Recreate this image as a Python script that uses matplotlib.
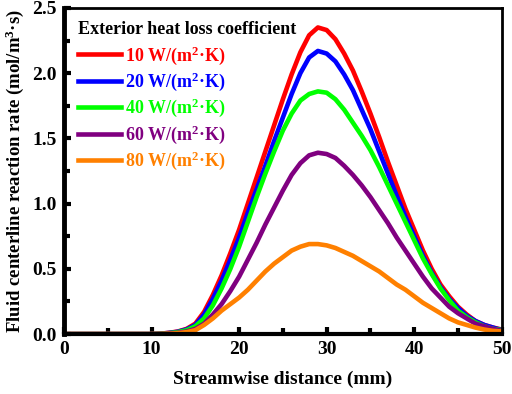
import numpy as np
import matplotlib
matplotlib.use('Agg')
import matplotlib.pyplot as plt
from matplotlib.ticker import MultipleLocator

plt.rcParams['font.family'] = 'Liberation Serif'
plt.rcParams['font.weight'] = 'bold'
plt.rcParams['mathtext.fontset'] = 'custom'
plt.rcParams['mathtext.rm'] = 'Liberation Serif:bold'
plt.rcParams['mathtext.it'] = 'Liberation Serif:bold'
plt.rcParams['mathtext.bf'] = 'Liberation Serif:bold'

# distancia ao longo do escoamento (mm)
x = [0, 5, 10, 11, 12, 13, 14, 15, 16, 17, 18, 19, 20, 21, 22, 23, 24, 25, 26, 27, 28,
     29, 30, 31, 32, 33, 34, 35, 36, 37, 38, 39, 40, 41, 42, 43, 44, 45, 46, 47, 48, 49, 50]

r10 = [0, 0, 0, 0.003, 0.01, 0.02, 0.04, 0.08, 0.17, 0.30, 0.45, 0.62, 0.80, 1.00, 1.20, 1.40,
       1.60, 1.80, 1.99, 2.16, 2.29, 2.35, 2.33, 2.26, 2.15, 2.02, 1.86, 1.69, 1.51, 1.32, 1.14,
       0.96, 0.80, 0.64, 0.50, 0.38, 0.29, 0.21, 0.15, 0.10, 0.07, 0.05, 0.035]
r20 = [0, 0, 0, 0.003, 0.009, 0.018, 0.036, 0.07, 0.15, 0.27, 0.41, 0.57, 0.74, 0.93, 1.11, 1.29,
       1.48, 1.66, 1.84, 2.00, 2.12, 2.17, 2.15, 2.09, 1.99, 1.87, 1.72, 1.57, 1.40, 1.23, 1.06,
       0.90, 0.75, 0.60, 0.47, 0.36, 0.27, 0.20, 0.14, 0.10, 0.07, 0.05, 0.03]
r40 = [0, 0, 0, 0.002, 0.007, 0.015, 0.03, 0.06, 0.12, 0.22, 0.35, 0.50, 0.67, 0.86, 1.05, 1.23,
       1.40, 1.56, 1.69, 1.79, 1.84, 1.86, 1.85, 1.80, 1.72, 1.62, 1.52, 1.41, 1.28, 1.14, 1.00,
       0.86, 0.72, 0.58, 0.46, 0.35, 0.26, 0.18, 0.13, 0.09, 0.06, 0.04, 0.03]
r60 = [0, 0, 0, 0.001, 0.005, 0.01, 0.02, 0.04, 0.08, 0.15, 0.23, 0.33, 0.44, 0.57, 0.70, 0.84,
       0.97, 1.10, 1.22, 1.31, 1.37, 1.39, 1.38, 1.35, 1.29, 1.22, 1.14, 1.05, 0.95, 0.85, 0.74,
       0.64, 0.54, 0.44, 0.35, 0.28, 0.21, 0.16, 0.12, 0.08, 0.06, 0.04, 0.025]
r80 = [0, 0, 0, 0.001, 0.003, 0.007, 0.015, 0.03, 0.07, 0.12, 0.18, 0.23, 0.28, 0.34, 0.41, 0.48,
       0.54, 0.59, 0.64, 0.67, 0.69, 0.69, 0.68, 0.66, 0.63, 0.60, 0.56, 0.52, 0.48, 0.43, 0.38,
       0.34, 0.29, 0.24, 0.20, 0.16, 0.12, 0.09, 0.07, 0.05, 0.035, 0.025, 0.02]

series = [r10, r20, r40, r60, r80]
labels = ['10 W/(m$^2$·K)', '20 W/(m$^2$·K)', '40 W/(m$^2$·K)',
          '60 W/(m$^2$·K)', '80 W/(m$^2$·K)']
cores = ['#FF0000', '#0000FF', '#00FF00', '#800080', '#FF8000']

fig = plt.figure(figsize=(5.12, 3.94), dpi=100)
ax = fig.add_axes([0.125, 0.152, 0.855, 0.828])

for y, lab, c in zip(series, labels, cores):
    ax.plot(x, y, color=c, linewidth=3.3, label=lab, solid_joinstyle='round')

ax.set_xlim(0, 50)
ax.set_ylim(0, 2.5)
ax.xaxis.set_major_locator(MultipleLocator(10))
ax.xaxis.set_minor_locator(MultipleLocator(5))
ax.set_yticks([0, 0.5, 1.0, 1.5, 2.0, 2.5])
ax.set_yticklabels(['0.0', '0.5', '1.0', '1.5', '2.0', '2.5'])
ax.yaxis.set_minor_locator(MultipleLocator(0.25))
ax.tick_params(which='major', direction='in', length=5, width=3, labelsize=14, pad=5)
ax.tick_params(which='minor', direction='in', length=4, width=3)

ax.spines['left'].set_linewidth(3.5)
ax.spines['bottom'].set_linewidth(3)
ax.spines['top'].set_linewidth(2)
ax.spines['right'].set_linewidth(2)

ax.set_xlabel('Streamwise distance (mm)', fontsize=14, fontweight='bold', labelpad=9)
ax.set_ylabel('Fluid centerline reaction rate (mol/m$^3$·s)', fontsize=13.5, fontweight='bold', labelpad=5)

leg = ax.legend(loc='upper left', title='Exterior heat loss coefficient', frameon=False,
                fontsize=13, title_fontsize=13, labelcolor='linecolor', handlelength=2.4,
                handletextpad=0.25, labelspacing=0.22, borderaxespad=0.35)
leg.get_title().set_fontweight('bold')
leg._legend_box.align = 'left'
leg._legend_box.sep = 4

fig.savefig('out.png', dpi=100)
